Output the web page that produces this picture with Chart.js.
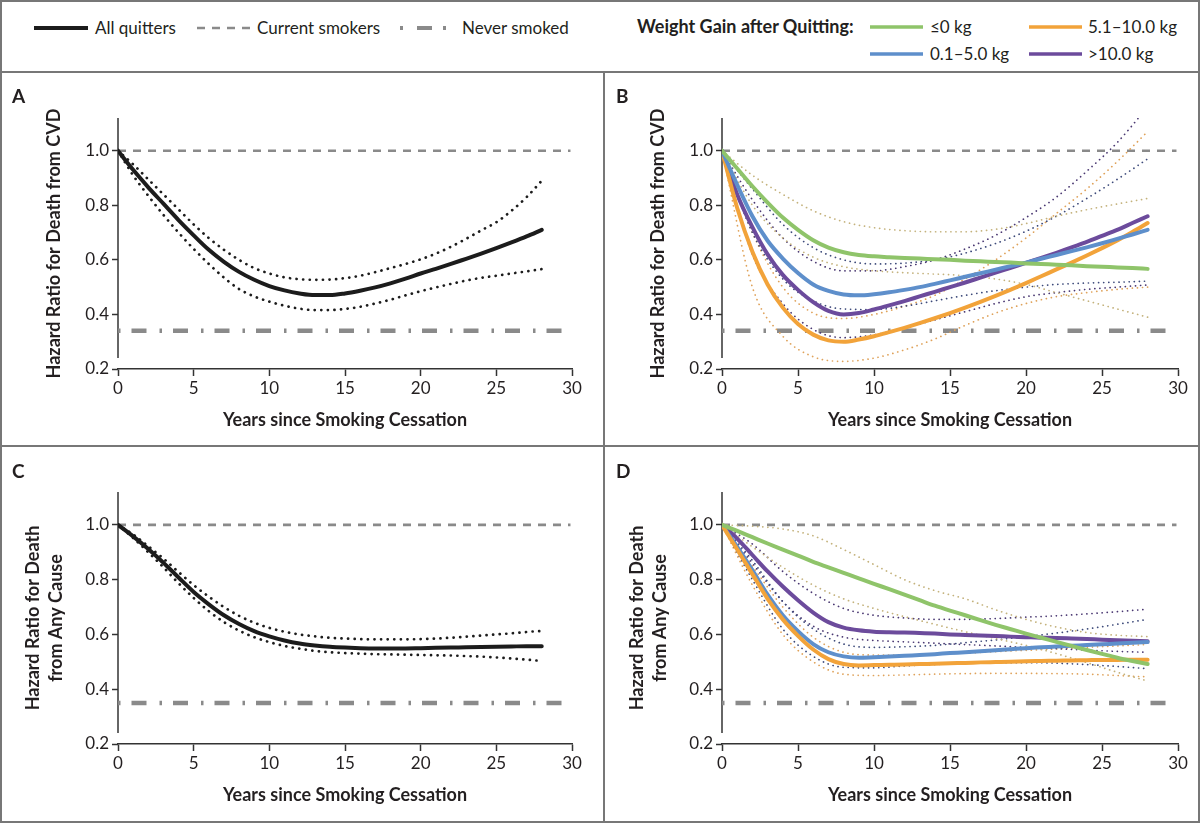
<!DOCTYPE html>
<html><head><meta charset="utf-8">
<script src="https://cdn.jsdelivr.net/npm/chart.js@4.4.1/dist/chart.umd.min.js"></script>
<style>
body{margin:0;background:#fff;}
#fig{position:relative;width:1200px;height:823px;background:#fff;overflow:hidden;font-family:Lato,"Open Sans",sans-serif;color:#231f20;}
canvas{position:absolute;}
.ln{position:absolute;background:#777;}
.txt{position:absolute;white-space:nowrap;line-height:18px;font-size:17px;}
.plab{position:absolute;font-weight:700;font-size:19px;line-height:20px;}
svg.leg{position:absolute;left:0;top:0;}
</style></head><body>
<div id="fig">
  <svg class="leg" width="1200" height="72">
    <line x1="34" y1="28" x2="88" y2="28" stroke="#1c1c1c" stroke-width="4"/>
    <line x1="197" y1="28" x2="252" y2="28" stroke="#8a8a8a" stroke-width="2.6" stroke-dasharray="8 7"/>
    <line x1="400" y1="28" x2="447" y2="28" stroke="#8a8a8a" stroke-width="4" stroke-dasharray="3 14 15 11 3 60"/>
    <line x1="870" y1="27" x2="923" y2="27" stroke="#8fc46a" stroke-width="3.5"/>
    <line x1="1029" y1="27" x2="1082" y2="27" stroke="#f2a33a" stroke-width="3.5"/>
    <line x1="870" y1="54" x2="923" y2="54" stroke="#5e8fcb" stroke-width="3.5"/>
    <line x1="1029" y1="54" x2="1082" y2="54" stroke="#6c4b9c" stroke-width="3.5"/>
  </svg>
  <div class="txt" style="left:95px;top:19px;">All quitters</div>
  <div class="txt" style="left:257px;top:19px;">Current smokers</div>
  <div class="txt" style="left:462px;top:19px;">Never smoked</div>
  <div class="txt" style="left:637px;top:17px;font-weight:700;font-size:18px;">Weight Gain after Quitting:</div>
  <div class="txt" style="left:930px;top:18px;">≤0 kg</div>
  <div class="txt" style="left:1088px;top:18px;">5.1–10.0 kg</div>
  <div class="txt" style="left:930px;top:45px;">0.1–5.0 kg</div>
  <div class="txt" style="left:1088px;top:45px;">&gt;10.0 kg</div>

  <canvas id="cA" width="604" height="373" style="left:0;top:73px;"></canvas>
  <canvas id="cB" width="596" height="373" style="left:604px;top:73px;"></canvas>
  <canvas id="cC" width="604" height="377" style="left:0;top:446px;"></canvas>
  <canvas id="cD" width="596" height="377" style="left:604px;top:446px;"></canvas>

  <div class="plab" style="left:12px;top:86px;">A</div>
  <div class="plab" style="left:616px;top:86px;">B</div>
  <div class="plab" style="left:12px;top:461px;">C</div>
  <div class="plab" style="left:616px;top:461px;">D</div>

  <div class="ln" style="left:0;top:0;width:1200px;height:2px;"></div>
  <div class="ln" style="left:0;top:821px;width:1200px;height:2px;"></div>
  <div class="ln" style="left:0;top:0;width:2px;height:823px;"></div>
  <div class="ln" style="left:1198px;top:0;width:2px;height:823px;"></div>
  <div class="ln" style="left:0;top:71px;width:1200px;height:2px;"></div>
  <div class="ln" style="left:603px;top:72px;width:2px;height:751px;"></div>
  <div class="ln" style="left:0;top:445px;width:1200px;height:2px;"></div>
</div>
<script>
// ---------- data ----------
const years = [0,1,2,3,4,5,6,7,8,9,10,11,12,13,14,15,16,17,18,19,20,21,22,23,24,25,26,27,28];
const ciYears = [0,2,4,6,8,10,12,14,16,18,20,22,24,26,28];
const refX = [0, 29.9];
const currentSmokers = [1.0, 1.0];
const neverSmokedCVD = [0.34, 0.34];
const neverSmokedAny = [0.35, 0.35];
const xTicks = [0,5,10,15,20,25,30];
const yTicks = [0.2,0.4,0.6,0.8,1.0];

// Panel A: death from CVD, all quitters
const aAll   = [1.0,0.93,0.866,0.806,0.746,0.69,0.637,0.593,0.556,0.527,0.504,0.488,0.477,0.471,0.471,0.477,0.487,0.499,0.514,0.531,0.55,0.567,0.585,0.604,0.623,0.643,0.664,0.686,0.71];
const aUpper = [1.0,0.95,0.895,0.84,0.785,0.73,0.68,0.637,0.6,0.57,0.55,0.536,0.529,0.527,0.528,0.533,0.542,0.555,0.57,0.585,0.602,0.623,0.648,0.677,0.708,0.738,0.78,0.83,0.89];
const aLower = [1.0,0.91,0.835,0.765,0.7,0.64,0.585,0.535,0.493,0.466,0.447,0.432,0.421,0.416,0.416,0.42,0.428,0.44,0.454,0.47,0.485,0.499,0.512,0.524,0.534,0.542,0.55,0.558,0.566];

// Panel C: death from any cause, all quitters
const cAll   = [1.0,0.958,0.912,0.862,0.808,0.755,0.71,0.67,0.638,0.612,0.593,0.578,0.567,0.56,0.555,0.552,0.55,0.549,0.549,0.549,0.55,0.551,0.552,0.553,0.554,0.555,0.556,0.557,0.557];
const cUpper = [1.0,0.965,0.922,0.877,0.828,0.78,0.738,0.7,0.668,0.643,0.624,0.61,0.6,0.593,0.588,0.585,0.583,0.582,0.582,0.582,0.583,0.585,0.588,0.592,0.596,0.6,0.604,0.609,0.613];
const cLower = [1.0,0.952,0.9,0.845,0.787,0.733,0.685,0.645,0.614,0.59,0.572,0.558,0.548,0.54,0.535,0.532,0.53,0.528,0.527,0.526,0.525,0.524,0.523,0.521,0.519,0.516,0.512,0.508,0.503];

// Panel B: death from CVD by weight gain
const bGreen  = [1.0,0.935,0.87,0.81,0.755,0.71,0.672,0.645,0.628,0.618,0.613,0.61,0.607,0.605,0.602,0.6,0.597,0.595,0.592,0.59,0.587,0.585,0.582,0.58,0.577,0.575,0.572,0.57,0.567];
const bBlue   = [1.0,0.875,0.76,0.67,0.605,0.552,0.51,0.486,0.473,0.47,0.474,0.481,0.49,0.5,0.512,0.525,0.538,0.551,0.564,0.577,0.59,0.604,0.618,0.632,0.646,0.661,0.677,0.693,0.71];
const bPurple = [1.0,0.84,0.72,0.62,0.545,0.49,0.445,0.413,0.4,0.405,0.418,0.433,0.449,0.466,0.483,0.5,0.517,0.535,0.553,0.571,0.589,0.607,0.626,0.646,0.666,0.688,0.71,0.735,0.76];
const bOrange = [1.0,0.79,0.63,0.51,0.425,0.365,0.326,0.305,0.3,0.308,0.32,0.335,0.351,0.368,0.386,0.405,0.425,0.446,0.468,0.491,0.515,0.54,0.565,0.59,0.616,0.643,0.671,0.702,0.735];
const bGreenUp  = [1.0,0.91,0.84,0.78,0.74,0.718,0.707,0.703,0.703,0.712,0.733,0.76,0.784,0.805,0.825];
const bGreenLo  = [1.0,0.8,0.68,0.61,0.575,0.56,0.553,0.548,0.542,0.53,0.51,0.48,0.45,0.42,0.39];
const bBlueUp   = [1.0,0.86,0.73,0.645,0.6,0.585,0.588,0.6,0.625,0.66,0.705,0.76,0.825,0.895,0.97];
const bBlueLo   = [1.0,0.7,0.53,0.45,0.42,0.418,0.43,0.45,0.47,0.487,0.5,0.51,0.515,0.518,0.522];
const bPurpleUp = [1.0,0.82,0.68,0.595,0.56,0.56,0.575,0.6,0.64,0.69,0.755,0.83,0.925,1.03,1.16];
const bPurpleLo = [1.0,0.62,0.44,0.345,0.315,0.325,0.35,0.38,0.41,0.44,0.465,0.48,0.492,0.5,0.508];
const bOrangeUp = [1.0,0.7,0.5,0.405,0.385,0.4,0.43,0.47,0.53,0.6,0.68,0.77,0.86,0.96,1.07];
const bOrangeLo = [1.0,0.5,0.32,0.245,0.228,0.24,0.27,0.31,0.36,0.405,0.44,0.465,0.48,0.492,0.5];

// Panel D: death from any cause by weight gain
const dGreen  = [1.0,0.978,0.955,0.932,0.91,0.888,0.865,0.845,0.825,0.805,0.785,0.765,0.745,0.725,0.705,0.687,0.67,0.652,0.635,0.619,0.603,0.588,0.573,0.558,0.543,0.529,0.515,0.503,0.492];
const dBlue   = [1.0,0.92,0.835,0.745,0.67,0.612,0.565,0.535,0.52,0.515,0.517,0.519,0.522,0.525,0.528,0.532,0.535,0.539,0.542,0.546,0.55,0.553,0.556,0.559,0.561,0.564,0.567,0.57,0.572];
const dPurple = [1.0,0.95,0.89,0.83,0.775,0.725,0.68,0.645,0.625,0.615,0.61,0.608,0.607,0.605,0.603,0.6,0.598,0.596,0.594,0.592,0.59,0.588,0.587,0.585,0.583,0.581,0.579,0.577,0.575];
const dOrange = [1.0,0.91,0.82,0.73,0.655,0.595,0.545,0.51,0.492,0.487,0.488,0.489,0.49,0.492,0.493,0.495,0.496,0.498,0.499,0.5,0.502,0.503,0.504,0.505,0.506,0.507,0.507,0.508,0.508];
const dGreenUp  = [1.0,0.995,0.985,0.96,0.91,0.855,0.8,0.76,0.73,0.69,0.655,0.627,0.607,0.597,0.592];
const dGreenLo  = [1.0,0.92,0.845,0.78,0.73,0.695,0.665,0.637,0.61,0.585,0.56,0.53,0.497,0.462,0.43];
const dBlueUp   = [1.0,0.87,0.72,0.62,0.565,0.553,0.555,0.56,0.57,0.58,0.592,0.605,0.62,0.637,0.655];
const dBlueLo   = [1.0,0.8,0.62,0.52,0.48,0.478,0.485,0.49,0.495,0.497,0.497,0.495,0.49,0.483,0.475];
const dPurpleUp = [1.0,0.93,0.83,0.75,0.695,0.67,0.66,0.655,0.655,0.658,0.663,0.668,0.675,0.683,0.692];
const dPurpleLo = [1.0,0.86,0.72,0.63,0.59,0.578,0.573,0.568,0.563,0.558,0.553,0.548,0.543,0.538,0.535];
const dOrangeUp = [1.0,0.85,0.7,0.59,0.535,0.525,0.525,0.528,0.532,0.537,0.542,0.547,0.553,0.558,0.563];
const dOrangeLo = [1.0,0.78,0.6,0.5,0.455,0.45,0.452,0.455,0.457,0.458,0.458,0.457,0.455,0.45,0.445];

// ---------- styling ----------
const C = {black:'#1c1c1c', green:'#8fc46a', blue:'#5e8fcb', purple:'#6c4b9c', orange:'#f2a33a',
  ref:'#8a8a8a', ciGreen:'#c4b27c', ciOrange:'#dfa25a', ciBlue:'#3d4a7a', ciPurple:'#4a3872', axis:'#333', text:'#231f20'};

Chart.defaults.font.family = 'Lato, "Open Sans", sans-serif';

function pts(xs, ys){ return ys.map((v,i)=>({x:xs[i], y:v})); }
function solid(xs, ys, color){
  return {data:pts(xs,ys), borderColor:color, borderWidth:4, cubicInterpolationMode:'monotone', pointRadius:0, borderCapStyle:'round', order:1};
}
function dotted(xs, ys, color, w, gap){
  return {data:pts(xs,ys), borderColor:color, borderWidth:w, borderDash:[0.1,gap], borderCapStyle:'round', cubicInterpolationMode:'monotone', pointRadius:0, order:2};
}
function refs(never){
  return [
    {data:pts(refX,currentSmokers), borderColor:C.ref, borderWidth:2.6, borderDash:[8,7], pointRadius:0, order:3},
    {data:pts(refX,never), borderColor:C.ref, borderWidth:4.5, borderDash:[2.5,11,15,13], pointRadius:0, order:3}
  ];
}

const yAxisLine = {id:'yAxisLine', beforeDatasetsDraw(chart){
  const {ctx, chartArea, scales} = chart;
  ctx.save(); ctx.strokeStyle = C.axis; ctx.lineWidth = 1.5;
  ctx.beginPath(); ctx.moveTo(chartArea.left, chartArea.top);
  ctx.lineTo(chartArea.left, scales.y.getPixelForValue(0.24)); ctx.stroke(); ctx.restore();
}};

function makeChart(id, datasets, cfg){
  new Chart(document.getElementById(id), {
    type:'line',
    data:{datasets},
    options:{
      animation:false, responsive:false, devicePixelRatio:1,
      layout:{padding:{left:0, top:cfg.top, right:cfg.right, bottom:0}},
      plugins:{legend:{display:false}, tooltip:{enabled:false}},
      elements:{point:{radius:0}},
      scales:{
        x:{type:'linear', min:0, max:30,
          afterFit:s=>{s.height = cfg.xh;},
          afterBuildTicks:s=>{s.ticks = xTicks.map(v=>({value:v}));},
          ticks:{padding:2, color:C.text, font:{size:17}},
          grid:{drawOnChartArea:false, drawTicks:true, tickLength:7, tickColor:C.axis, tickWidth:1.5},
          border:{display:true, color:C.axis, width:1.5},
          title:{display:true, text:'Years since Smoking Cessation', color:C.text, font:{size:18, weight:'bold'}, padding:{top:0, bottom:cfg.xtp}}
        },
        y:{type:'linear', min:0.2, max:1.12,
          afterFit:s=>{s.width = 118;},
          afterBuildTicks:s=>{s.ticks = yTicks.map(v=>({value:v}));},
          ticks:{padding:3, color:C.text, font:{size:17}, callback:v=>Number(v).toFixed(1)},
          grid:{drawOnChartArea:false, drawTicks:true, tickLength:6, tickColor:C.axis, tickWidth:1.5},
          border:{display:false},
          title:{display:true, text:cfg.ytitle, color:C.text, font:{size:18, weight:'bold', lineHeight:1.28}, padding:{top:cfg.ytp, bottom:0}}
        }
      }
    },
    plugins:[yAxisLine]
  });
}

const ciW = 1.7, ciGap = 5;
const blackDotW = 2.7, blackGap = 6.5;

makeChart('cA', [
  solid(years, aAll, C.black),
  dotted(years, aUpper, C.black, blackDotW, blackGap),
  dotted(years, aLower, C.black, blackDotW, blackGap),
  ...refs(neverSmokedCVD)
], {top:45, right:32, xh:77, xtp:15.2, ytp:43, ytitle:'Hazard Ratio for Death from CVD'});

makeChart('cB', [
  solid(years, bGreen, C.green),
  solid(years, bBlue, C.blue),
  solid(years, bOrange, C.orange),
  solid(years, bPurple, C.purple),
  dotted(ciYears, bGreenUp, C.ciGreen, ciW, ciGap),
  dotted(ciYears, bGreenLo, C.ciGreen, ciW, ciGap),
  dotted(ciYears, bBlueUp, C.ciBlue, ciW, ciGap),
  dotted(ciYears, bBlueLo, C.ciBlue, ciW, ciGap),
  dotted(ciYears, bPurpleUp, C.ciPurple, ciW, ciGap),
  dotted(ciYears, bPurpleLo, C.ciPurple, ciW, ciGap),
  dotted(ciYears, bOrangeUp, C.ciOrange, ciW, ciGap),
  dotted(ciYears, bOrangeLo, C.ciOrange, ciW, ciGap),
  ...refs(neverSmokedCVD)
], {top:45, right:22, xh:77, xtp:15.2, ytp:43, ytitle:'Hazard Ratio for Death from CVD'});

makeChart('cC', [
  solid(years, cAll, C.black),
  dotted(years, cUpper, C.black, blackDotW, blackGap),
  dotted(years, cLower, C.black, blackDotW, blackGap),
  ...refs(neverSmokedAny)
], {top:46, right:32, xh:79, xtp:17.2, ytp:21.5, ytitle:['Hazard Ratio for Death','from Any Cause']});

makeChart('cD', [
  solid(years, dGreen, C.green),
  solid(years, dOrange, C.orange),
  solid(years, dBlue, C.blue),
  solid(years, dPurple, C.purple),
  dotted(ciYears, dGreenUp, C.ciGreen, ciW, ciGap),
  dotted(ciYears, dGreenLo, C.ciGreen, ciW, ciGap),
  dotted(ciYears, dBlueUp, C.ciBlue, ciW, ciGap),
  dotted(ciYears, dBlueLo, C.ciBlue, ciW, ciGap),
  dotted(ciYears, dPurpleUp, C.ciPurple, ciW, ciGap),
  dotted(ciYears, dPurpleLo, C.ciPurple, ciW, ciGap),
  dotted(ciYears, dOrangeUp, C.ciOrange, ciW, ciGap),
  dotted(ciYears, dOrangeLo, C.ciOrange, ciW, ciGap),
  ...refs(neverSmokedAny)
], {top:46, right:22, xh:79, xtp:17.2, ytp:21.5, ytitle:['Hazard Ratio for Death','from Any Cause']});
</script>
</body></html>
